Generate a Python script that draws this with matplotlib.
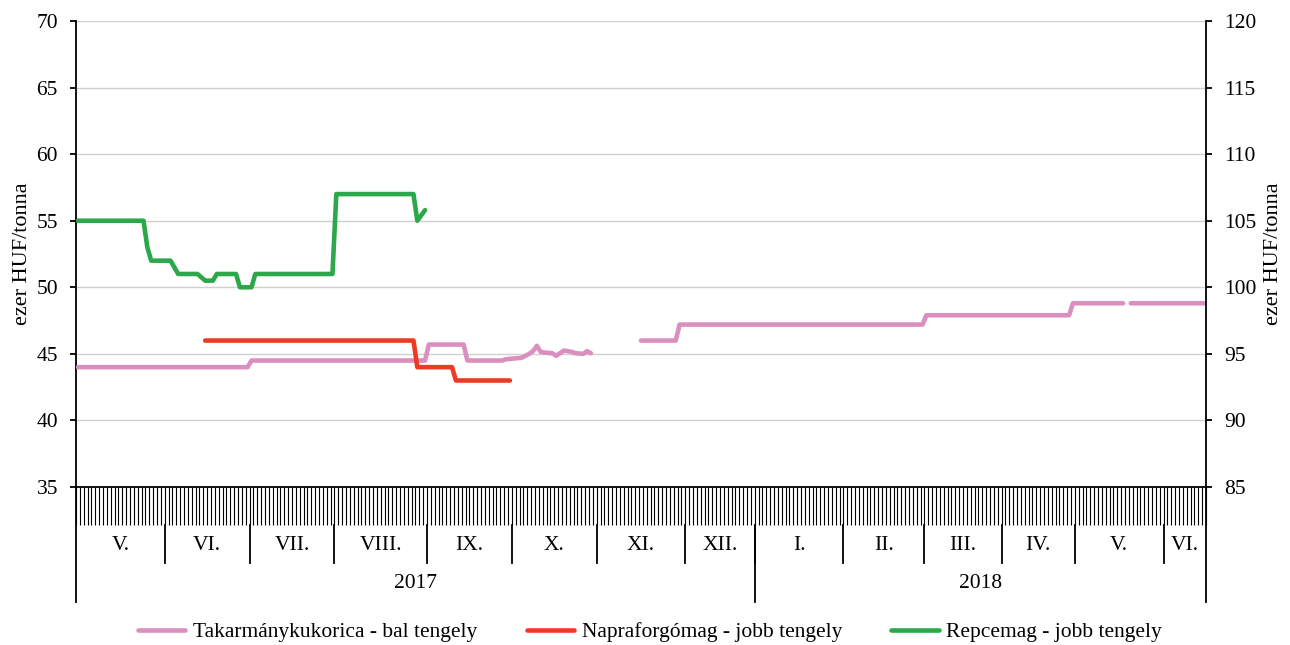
import matplotlib
matplotlib.use('Agg')
import matplotlib.pyplot as plt
import numpy as np
from matplotlib.transforms import blended_transform_factory

plt.rcParams['font.family'] = ['Liberation Serif', 'DejaVu Serif']

# ---- data ----
month_labels = ['V.', 'VI.', 'VII.', 'VIII.', 'IX.', 'X.', 'XI.', 'XII.',
                'I.', 'II.', 'III.', 'IV.', 'V.', 'VI.']
month_days = [23, 22, 22, 24, 22, 22, 23, 18, 23, 21, 20, 19, 23, 11]
year_labels = ['2017', '2018']
year_months = [8, 6]

nan = np.nan
corn_x = [0, 44, 45, 90, 91, 100, 101, 110, 111, 115, 116, 117, 118, 119, 120,
          121, 123, 124, 126, 127, 128, 129, 131, 132, 133, nan,
          146, 155, 156, 219, 220, 257, 258, 271, nan, 273, 292]
corn_val = [44.0, 44.0, 44.5, 44.5, 45.7, 45.7, 44.5, 44.5, 44.6, 44.7, 44.85,
            45.0, 45.2, 45.6, 45.15, 45.1, 45.05, 44.85, 45.25, 45.2, 45.15,
            45.05, 45.0, 45.2, 45.05, nan,
            46.0, 46.0, 47.2, 47.2, 47.9, 47.9, 48.8, 48.8, nan, 48.8, 48.8]

sun_x = [33, 87, 88, 97, 98, 112]
sun_val = [96, 96, 94, 94, 93, 93]

rape_x = [0, 17, 18, 19, 24, 26, 31, 33, 35, 36, 41, 42, 45, 46, 66, 67, 87, 88, 90]
rape_val = [105, 105, 103, 102, 102, 101, 101, 100.5, 100.5, 101, 101, 100, 100,
            101, 101, 107, 107, 105, 105.8]

series_names = ['Takarmánykukorica - bal tengely',
                'Napraforgómag - jobb tengely',
                'Repcemag - jobb tengely']
colors = ['#DA8FBF', '#EE3A24', '#2CA84A']

# ---- figure ----
W, H = 1290, 645
fig = plt.figure(figsize=(W / 100, H / 100), dpi=100)
L, R, T, B = 76, 1206, 21, 487
ax = fig.add_axes([L / W, 1 - B / H, (R - L) / W, (B - T) / H])
ax2 = ax.twinx()

N = sum(month_days)
fs = 15.5
lw = 3.3

l1, = ax.plot(corn_x, corn_val, color=colors[0], lw=lw,
              solid_capstyle='round', solid_joinstyle='round', zorder=3)
l2, = ax2.plot(sun_x, sun_val, color=colors[1], lw=lw,
               solid_capstyle='round', solid_joinstyle='round', zorder=3)
l3, = ax2.plot(rape_x, rape_val, color=colors[2], lw=lw,
               solid_capstyle='round', solid_joinstyle='round', zorder=3)

ax.set_xlim(-0.5, N - 0.5)
ax.set_ylim(35, 70)
ax2.set_ylim(85, 120)
ax.set_yticks(np.arange(35, 71, 5))
ax2.set_yticks(np.arange(85, 121, 5))

ax.grid(axis='y', color='#D0D0D0', lw=1.0)
ax.set_axisbelow(True)

for a in (ax, ax2):
    a.spines['top'].set_visible(False)
ax.spines['right'].set_visible(False)
ax2.spines['left'].set_visible(False)
ax2.spines['bottom'].set_visible(False)
for s in ('left', 'bottom'):
    ax.spines[s].set_linewidth(1.3)
ax2.spines['right'].set_linewidth(1.3)

ax.tick_params(axis='y', length=4, width=1.3, pad=9, labelsize=fs)
ax2.tick_params(axis='y', length=4, width=1.3, pad=9, labelsize=fs)

ax.set_xticks(np.arange(N + 1) - 0.5)
ax.set_xticklabels([])
ax.tick_params(axis='x', length=27.4, width=0.8, direction='out')

ax.set_ylabel('ezer HUF/tonna', fontsize=16)
ax.yaxis.set_label_coords((32 - L) / (R - L), 0.5)
ax2.set_ylabel('ezer HUF/tonna', fontsize=16, rotation=90)
ax2.yaxis.set_label_coords((1264 - L) / (R - L), 0.5)

# ---- category axis decorations ----
trans = blended_transform_factory(ax.transData, ax.transAxes)
ph = B - T
y_tick_end = -(525 - B) / ph
y_month_end = -(563 - B) / ph
y_bottom = -(602 - B) / ph
y_month_lab = -(545 - B) / ph
y_year_lab = -(584 - B) / ph

bounds = np.concatenate([[0], np.cumsum(month_days)])
for i, lab in enumerate(month_labels):
    c = (bounds[i] + bounds[i + 1]) / 2 - 0.5
    ax.text(c, y_month_lab, lab, transform=trans, ha='center', va='center',
            fontsize=fs)
for b in bounds[1:-1]:
    ax.plot([b - 0.5, b - 0.5], [y_tick_end, y_month_end], transform=trans,
            color='black', lw=1.3, clip_on=False)

ybounds = np.concatenate([[0], np.cumsum(year_months)])
for i, lab in enumerate(year_labels):
    c = (bounds[ybounds[i]] + bounds[ybounds[i + 1]]) / 2 - 0.5
    ax.text(c, y_year_lab, lab, transform=trans, ha='center', va='center',
            fontsize=fs)
for yb in ybounds[1:-1]:
    xb = bounds[yb] - 0.5
    ax.plot([xb, xb], [y_tick_end, y_bottom], transform=trans,
            color='black', lw=1.3, clip_on=False)

for xa in (0, 1):
    ax.plot([xa, xa], [0, y_bottom], transform=ax.transAxes, color='black',
            lw=1.3, clip_on=False)

fig.legend([l1, l2, l3], series_names, loc='center',
           bbox_to_anchor=(650 / W, 1 - 632 / H), ncol=3, frameon=False,
           fontsize=fs, handlelength=2.2, handletextpad=0.35,
           columnspacing=2.3)

fig.savefig('out.png', dpi=100)
